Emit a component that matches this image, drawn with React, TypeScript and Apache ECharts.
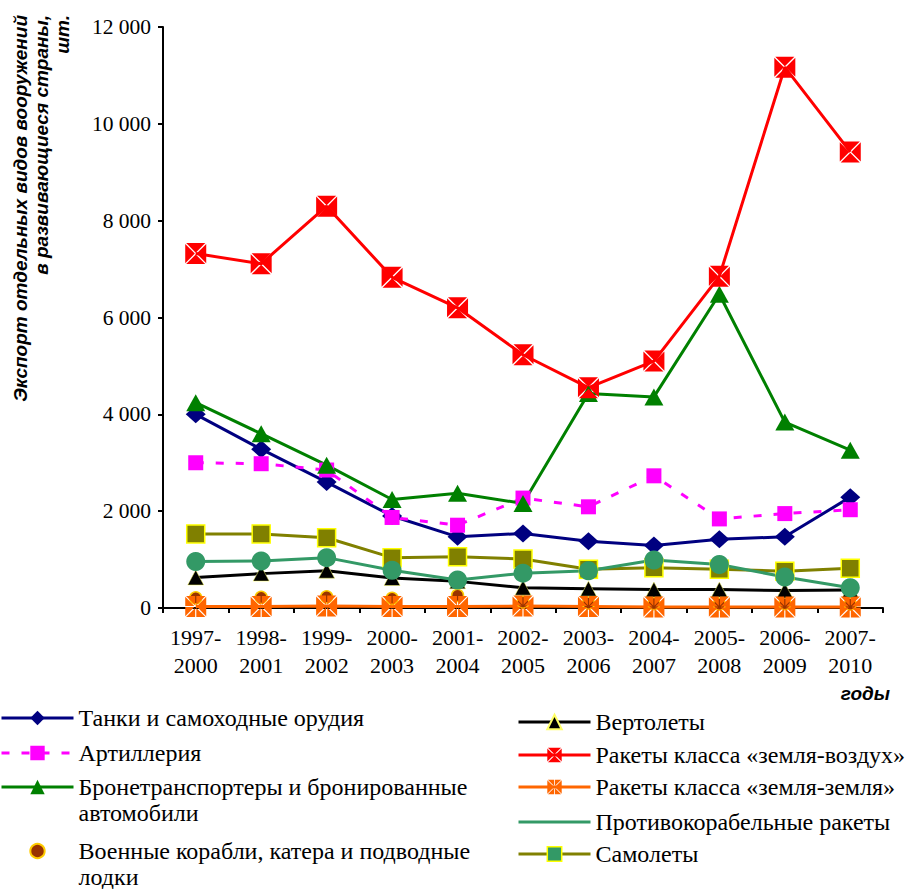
import React, { useEffect, useRef } from "react";
import * as echarts from "echarts";

const categories = [
  "1997-2000", "1998-2001", "1999-2002", "2000-2003", "2001-2004", "2002-2005",
  "2003-2006", "2004-2007", "2005-2008", "2006-2009", "2007-2010",
];

const tanks = [4000, 3280, 2600, 1900, 1470, 1540, 1380, 1290, 1420, 1470, 2290];
const artillery = [3000, 2980, 2850, 1870, 1710, 2270, 2090, 2730, 1840, 1950, 2030];
const apc = [4240, 3600, 2950, 2240, 2370, 2160, 4430, 4360, 6480, 3840, 3260];
const ships = [210, 220, 230, 200, 260, 120, 100, 90, 80, 90, 80];
const helicopters = [630, 710, 770, 620, 550, 420, 400, 380, 380, 360, 370];
const samMissiles = [7320, 7110, 8300, 6830, 6200, 5230, 4550, 5100, 6850, 11170, 9420];
const ssmMissiles = [30, 30, 40, 30, 30, 40, 30, 20, 20, 20, 20];
const antiShip = [960, 970, 1040, 780, 580, 720, 770, 990, 900, 640, 420];
const aircraft = [1530, 1530, 1450, 1040, 1060, 1010, 800, 830, 800, 760, 820];

const yTicks = [0, 2000, 4000, 6000, 8000, 10000, 12000];

const names = {
  tanks: "Танки и самоходные орудия",
  artillery: "Артиллерия",
  apc: "Бронетранспортеры и бронированные автомобили",
  ships: "Военные корабли, катера и подводные лодки",
  helicopters: "Вертолеты",
  sam: "Ракеты класса «земля-воздух»",
  ssm: "Ракеты класса «земля-земля»",
  antiShip: "Противокорабельные ракеты",
  aircraft: "Самолеты",
};

// square marker split by an X (gaps show as thin light lines)
const xSquare =
  "path://M0.9,0L19.1,0L10,9.1Z M20,0.9L20,19.1L10.9,10Z M19.1,20L0.9,20L10,10.9Z M0,19.1L0,0.9L9.1,10Z";

// square marker split by X and + (asterisk)
function starSquare(): string {
  const g = 0.55;
  const base: [number, number][] = [
    [10 + g, 0],
    [20 - 1.414 * g, 0],
    [10 + g, 10 - 2.414 * g],
  ];
  const tris: [number, number][][] = [];
  const rot = (p: [number, number]): [number, number] => [20 - p[1], p[0]];
  const refl = (p: [number, number]): [number, number] => [20 - p[0], p[1]];
  let cur = base;
  for (let i = 0; i < 4; i++) {
    tris.push(cur);
    tris.push(cur.map(refl));
    cur = cur.map(rot);
  }
  const fmt = (n: number) => n.toFixed(2);
  return (
    "path://" +
    tris
      .map((t) => `M${fmt(t[0][0])},${fmt(t[0][1])}L${fmt(t[1][0])},${fmt(t[1][1])}L${fmt(t[2][0])},${fmt(t[2][1])}Z`)
      .join(" ")
  );
}

const SERIF = "'Liberation Serif', 'Times New Roman', serif";
const SANS = "'Liberation Sans', Arial, sans-serif";

export default function App() {
  const ref = useRef<HTMLDivElement>(null);

  useEffect(() => {
    if (!ref.current) return;
    const chart = echarts.init(ref.current, null, { renderer: "svg" });

    const legendText = {
      fontFamily: SERIF,
      fontSize: 24,
      lineHeight: 26,
      color: "#000",
    };
    const mkLegend = (
      name: string,
      left: number,
      top: number,
      extra: any = {},
      wrap = false
    ) => ({
      data: [{ name, ...extra }],
      left,
      top,
      orient: "vertical",
      padding: 0,
      itemWidth: 72,
      itemHeight: 18,
      itemGap: 0,
      selectedMode: false,
      lineStyle: { width: 3 },
      textStyle: legendText,
      formatter: wrap ? (n: string) => "\n" + n.replace(/ (\S+)$/, "\n$1") : undefined,
    });

    const lineCommon = {
      type: "line",
      lineStyle: { width: 3 },
      emphasis: { disabled: true },
    };

    chart.setOption({
      animation: false,
      textStyle: { fontFamily: SERIF },
      grid: { left: 163, right: 22, top: 27, bottom: 281, containLabel: false },
      xAxis: {
        type: "category",
        data: categories,
        boundaryGap: true,
        axisLine: { lineStyle: { color: "#000", width: 2 } },
        axisTick: { show: true, length: 5, inside: false, lineStyle: { color: "#000", width: 2 } },
        axisLabel: {
          color: "#000",
          fontSize: 22,
          fontFamily: SERIF,
          lineHeight: 28,
          margin: 15,
          interval: 0,
          formatter: (v: string) => v.replace("-", "-\n"),
        },
        splitLine: { show: false },
      },
      yAxis: {
        type: "value",
        min: yTicks[0],
        max: yTicks[yTicks.length - 1],
        interval: yTicks[1] - yTicks[0],
        axisLine: { show: true, lineStyle: { color: "#000", width: 2 } },
        axisTick: { show: true, length: 5, lineStyle: { color: "#000", width: 2 } },
        axisLabel: {
          color: "#000",
          fontSize: 21.5,
          fontFamily: SERIF,
          margin: 12,
          formatter: (v: number) => String(v).replace(/\B(?=(\d{3})+(?!\d))/g, " "),
        },
        splitLine: { show: false },
      },
      legend: [
        mkLegend(names.tanks, 0, 705),
        mkLegend(names.artillery, 0, 740),
        mkLegend(names.apc, 0, 748, {}, true),
        mkLegend(names.ships, 0, 812, {}, true),
        mkLegend(names.helicopters, 517, 709),
        mkLegend(names.sam, 517, 742),
        mkLegend(names.ssm, 517, 774),
        mkLegend(names.antiShip, 517, 809, { itemStyle: { opacity: 0 } }),
        mkLegend(names.aircraft, 517, 841, {
          itemStyle: { color: "#339966", borderColor: "#FFFF00", borderWidth: 1.5 },
        }),
      ],
      graphic: [
        {
          type: "text",
          x: 10,
          y: 15,
          rotation: Math.PI / 2,
          style: {
            text: "Экспорт отдельных видов вооружений\nв развивающиеся страны,\nшт.",
            align: "right",
            verticalAlign: "top",
            font: `italic bold 19px ${SANS}`,
            lineHeight: 21,
            fill: "#000",
          },
        },
        {
          type: "text",
          x: 890,
          y: 693,
          style: {
            text: "годы",
            align: "right",
            verticalAlign: "middle",
            font: `italic bold 19px ${SANS}`,
            fill: "#000",
          },
        },
      ],
      series: [
        {
          ...lineCommon,
          name: names.tanks,
          data: tanks,
          symbol: "diamond",
          symbolSize: [20, 18],
          itemStyle: { color: "#000080" },
          lineStyle: { width: 3, color: "#000080" },
        },
        {
          ...lineCommon,
          name: names.artillery,
          data: artillery,
          symbol: "rect",
          symbolSize: 15,
          itemStyle: { color: "#FF00FF" },
          lineStyle: { width: 3, color: "#FF00FF", type: [8, 12] },
        },
        {
          ...lineCommon,
          name: names.apc,
          data: apc,
          symbol: "triangle",
          symbolSize: [19, 17],
          itemStyle: { color: "#008000" },
          lineStyle: { width: 3, color: "#008000" },
        },
        {
          ...lineCommon,
          name: names.ships,
          data: ships,
          symbol: "circle",
          symbolSize: 12,
          itemStyle: { color: "#993300", borderColor: "#FFCC00", borderWidth: 1.5 },
          lineStyle: { width: 0, opacity: 0 },
        },
        {
          ...lineCommon,
          name: names.helicopters,
          data: helicopters,
          symbol: "triangle",
          symbolSize: [16, 15],
          itemStyle: { color: "#000000", borderColor: "#FFFF66", borderWidth: 0.5 },
          lineStyle: { width: 3, color: "#000000" },
        },
        {
          ...lineCommon,
          name: names.sam,
          data: samMissiles,
          symbol: xSquare,
          symbolSize: 21,
          itemStyle: { color: "#FF0000" },
          lineStyle: { width: 3, color: "#FF0000" },
        },
        {
          ...lineCommon,
          name: names.ssm,
          data: ssmMissiles,
          symbol: starSquare(),
          symbolSize: 21,
          itemStyle: { color: "#FF6600" },
          lineStyle: { width: 3, color: "#FF6600" },
        },
        {
          ...lineCommon,
          name: names.aircraft,
          data: aircraft,
          symbol: "rect",
          symbolSize: 18,
          itemStyle: { color: "#808000", borderColor: "#FFFF00", borderWidth: 1.5 },
          lineStyle: { width: 3, color: "#808000" },
        },
        {
          ...lineCommon,
          name: names.antiShip,
          data: antiShip,
          symbol: "circle",
          symbolSize: 19,
          itemStyle: { color: "#339966" },
          lineStyle: { width: 3, color: "#339966" },
        },
      ],
    });

    return () => chart.dispose();
  }, []);

  return (
    <div
      ref={ref}
      style={{ position: "fixed", left: 0, top: 0, width: 905, height: 889, background: "#fff" }}
    />
  );
}
